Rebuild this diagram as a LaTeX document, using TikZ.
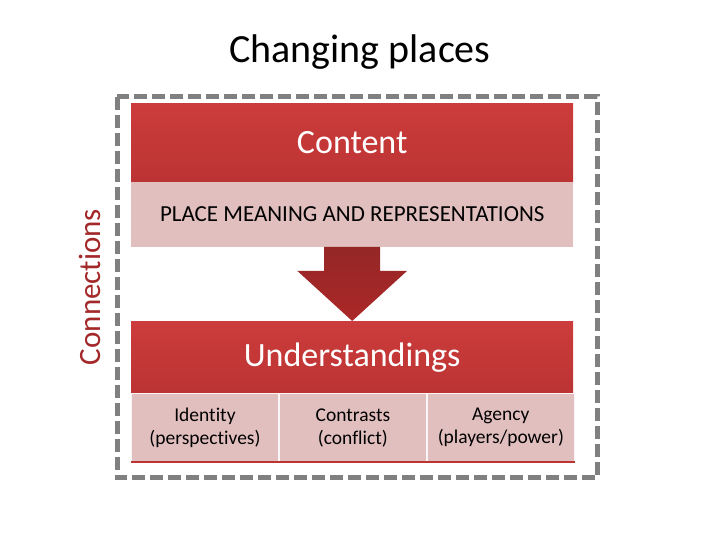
\documentclass[tikz,border=0pt]{standalone}
\usepackage{fontspec}
\setmainfont{Carlito}[Ligatures=NoCommon]
\usetikzlibrary{calc,positioning}
\definecolor{moldura}{HTML}{808080}
\definecolor{vermelho}{HTML}{CC3C3C}
\definecolor{vermelhoescuro}{HTML}{BC3333}
\definecolor{rosa}{HTML}{E2BFBF}
\definecolor{seta}{HTML}{A52B2B}
\definecolor{vinho}{HTML}{A3282A}
\begin{document}
\begin{tikzpicture}[x=1pt,y=1pt,
    cabeca/.style={top color=vermelho, bottom color=vermelhoescuro, draw=none,
      minimum width=442pt, inner sep=0pt, text=white, font=\fontsize{34}{36}\selectfont},
    faixa/.style={fill=rosa, draw=none, minimum width=442pt, minimum height=65pt,
      inner sep=0pt, font=\fontsize{23}{25}\selectfont},
    celula/.style={fill=rosa, draw=white!85!rosa, line width=0.6pt, minimum width=147.33pt,
      minimum height=68pt, inner sep=0pt, align=center, font=\fontsize{19.5}{23}\selectfont}]
  \useasboundingbox (0,0) rectangle (720,540);
  \node[font=\fontsize{40}{42}\selectfont] (titulo) at (360,488) {Changing places};
  \draw[moldura, line width=5pt, dash pattern=on 13pt off 5pt] (117,443) rectangle (597,62);
  \node[cabeca, minimum height=78pt, anchor=north west] (content) at (131,437) {Content};
  \node[faixa, below=0pt of content] (place) {PLACE MEANING AND REPRESENTATIONS};
  \node[cabeca, minimum height=72pt, anchor=north west] (und) at (131,219) {Understandings};
  \node[celula, anchor=north west] (identity) at (und.south west) {Identity\\(perspectives)};
  \node[celula, right=0pt of identity] (contrasts) {Contrasts\\(conflict)};
  \node[celula, right=0pt of contrasts] (agency) {Agency\\(players/power)};
  \draw[vermelhoescuro, line width=2pt] (identity.south west) -- (agency.south east);
  % seta entre os blocos
  \shade[top color=seta!90!black, bottom color=seta!92!red, draw=none]
    ($(place.south)+(-28,0)$) -- ($(place.south)+(28,0)$) -- ($(place.south)+(28,-24)$)
    -- ($(place.south)+(55,-24)$) -- (und.north) -- ($(place.south)+(-55,-24)$)
    -- ($(place.south)+(-28,-24)$) -- cycle;
  \node[rotate=90, text=vinho, font=\fontsize{31}{33}\selectfont] (connections) at (90,253) {Connections};
\end{tikzpicture}
\end{document}
